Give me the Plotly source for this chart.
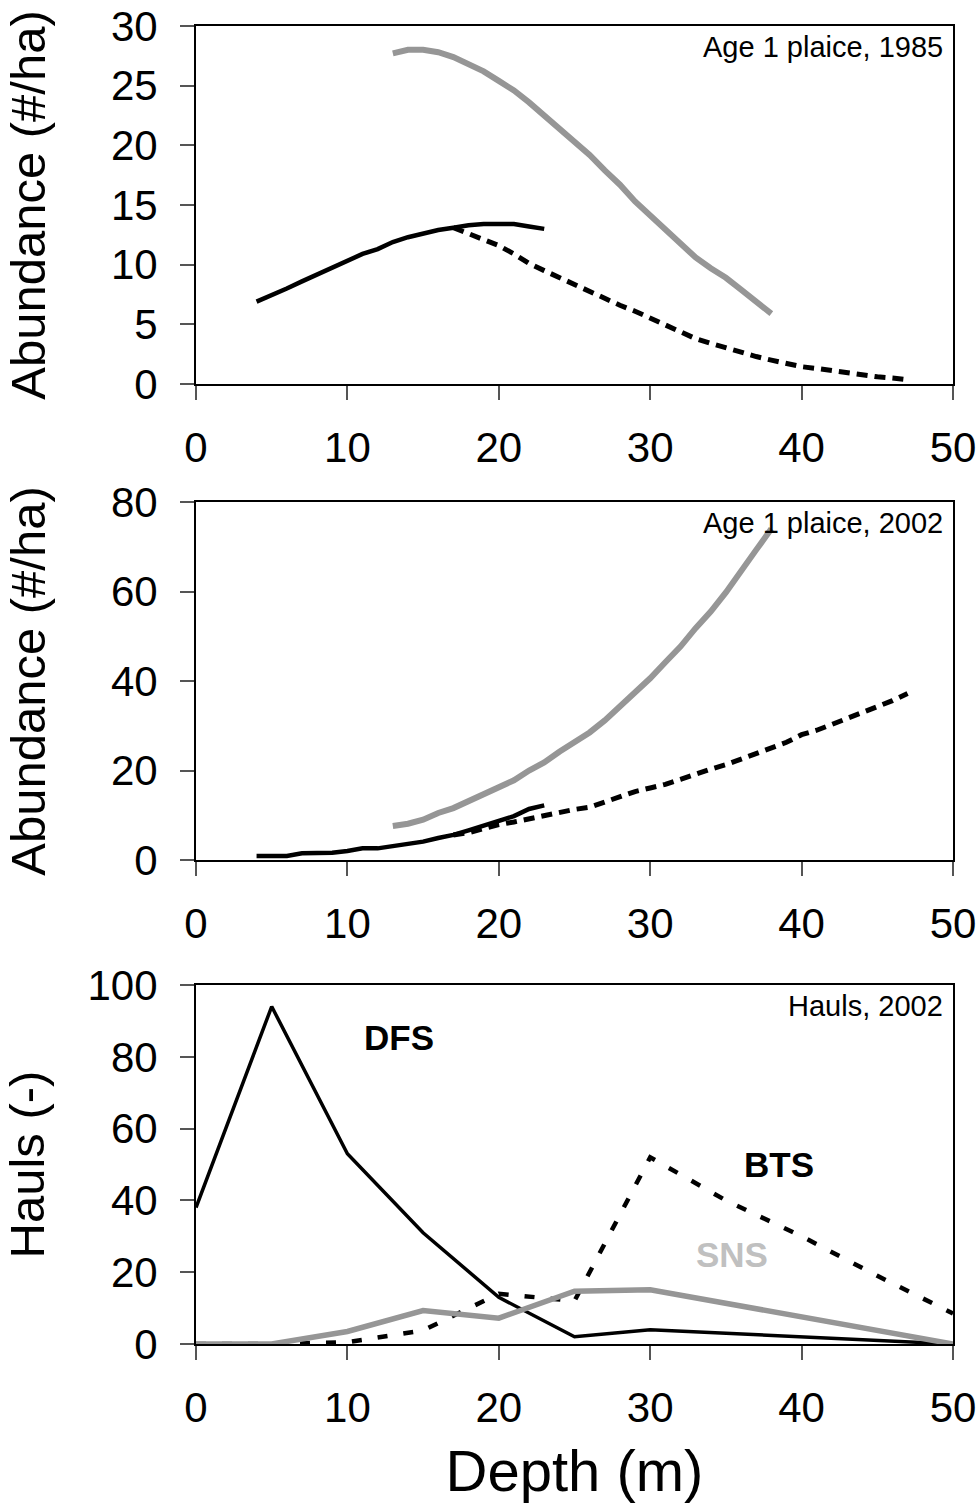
import plotly.graph_objects as go

# ---------------- data ----------------
# Panel 1: Age 1 plaice, 1985
p1_dfs_depth = list(range(4, 24))
p1_dfs_abund = [6.9, 7.4, 8.0, 8.6, 9.2, 9.8, 10.3, 10.9, 11.3, 11.9, 12.3, 12.6,
                12.9, 13.1, 13.3, 13.4, 13.4, 13.4, 13.2, 13.0]
p1_bts_depth = list(range(17, 48))
p1_bts_abund = [13.1, 12.6, 12.1, 11.6, 10.9, 10.1, 9.5, 8.9, 8.4, 7.8, 7.2, 6.6,
                6.1, 5.5, 4.9, 4.3, 3.8, 3.4, 3.0, 2.7, 2.3, 2.0, 1.7, 1.45, 1.3,
                1.1, 0.9, 0.75, 0.6, 0.5, 0.35]
p1_sns_depth = list(range(13, 39))
p1_sns_abund = [27.7, 28.0, 28.0, 27.8, 27.4, 26.8, 26.2, 25.4, 24.6, 23.6, 22.5,
                21.4, 20.3, 19.2, 17.9, 16.7, 15.3, 14.1, 12.9, 11.7, 10.6, 9.7,
                8.9, 7.9, 6.9, 5.9]

# Panel 2: Age 1 plaice, 2002
p2_dfs_depth = list(range(4, 24))
p2_dfs_abund = [0.9, 0.9, 0.9, 1.5, 1.6, 1.6, 2.0, 2.6, 2.6, 3.1, 3.6, 4.1, 4.9,
                5.6, 6.6, 7.6, 8.7, 9.8, 11.4, 12.2]
p2_bts_depth = list(range(17, 48))
p2_bts_abund = [5.6, 6.1, 7.0, 7.9, 8.5, 9.2, 9.9, 10.7, 11.3, 11.8, 13.0, 14.2,
                15.3, 16.1, 16.9, 18.0, 19.2, 20.3, 21.3, 22.5, 23.8, 25.0, 26.3,
                28.0, 29.0, 30.3, 31.6, 32.9, 34.2, 35.6, 37.2]
p2_sns_depth = list(range(13, 39))
p2_sns_abund = [7.6, 8.1, 9.0, 10.5, 11.6, 13.2, 14.5, 16.3, 17.8, 20.0, 21.8,
                24.2, 26.2, 28.5, 31.2, 34.3, 37.4, 40.6, 44.2, 47.7, 51.8, 55.5,
                59.8, 64.8, 69.3, 74.0]

# Panel 3: Hauls, 2002
haul_depth = [0, 5, 10, 15, 20, 25, 30, 35, 40, 45, 50]
hauls_dfs = [38, 94, 53, 31, 13, 2, 4, 3, 2, 1, 0]
hauls_bts = [0, 0, 0.5, 3.8, 14, 12, 52, 40, 30, 19, 8.5]
hauls_sns = [0, 0, 3.5, 9.3, 7.2, 14.7, 15.1, 11.3, 7.6, 3.8, 0]

x_ticks = [0, 10, 20, 30, 40, 50]

# ---------------- layout helpers ----------------
W, H = 979, 1512
ML, MT = 196, 26
MR = W - 953
MB = H - 1344
PH = H - MT - MB


def ydom(top_px, bot_px):
    return [1 - (bot_px - MT) / PH, 1 - (top_px - MT) / PH]


FONT = "Arial, Liberation Sans, sans-serif"
BLACK = "#000000"
GRAY = "#969696"
LIGHT = "#c0c0c0"

fig = go.Figure()

# panel 1
fig.add_trace(go.Scatter(x=p1_sns_depth, y=p1_sns_abund, mode="lines",
                         line=dict(color=GRAY, width=6), xaxis="x", yaxis="y", name="SNS"))
fig.add_trace(go.Scatter(x=p1_bts_depth, y=p1_bts_abund, mode="lines",
                         line=dict(color=BLACK, width=5, dash="11px,7px"),
                         xaxis="x", yaxis="y", name="BTS"))
fig.add_trace(go.Scatter(x=p1_dfs_depth, y=p1_dfs_abund, mode="lines",
                         line=dict(color=BLACK, width=4.5), xaxis="x", yaxis="y", name="DFS"))
# panel 2
fig.add_trace(go.Scatter(x=p2_sns_depth, y=p2_sns_abund, mode="lines",
                         line=dict(color=GRAY, width=6), xaxis="x2", yaxis="y2", name="SNS"))
fig.add_trace(go.Scatter(x=p2_bts_depth, y=p2_bts_abund, mode="lines",
                         line=dict(color=BLACK, width=5, dash="11px,7px"),
                         xaxis="x2", yaxis="y2", name="BTS"))
fig.add_trace(go.Scatter(x=p2_dfs_depth, y=p2_dfs_abund, mode="lines",
                         line=dict(color=BLACK, width=4.5), xaxis="x2", yaxis="y2", name="DFS"))
# panel 3
fig.add_trace(go.Scatter(x=haul_depth, y=hauls_bts, mode="lines",
                         line=dict(color=BLACK, width=4.5, dash="10px,16px"),
                         xaxis="x3", yaxis="y3", name="BTS"))
fig.add_trace(go.Scatter(x=haul_depth, y=hauls_dfs, mode="lines",
                         line=dict(color=BLACK, width=3.5), xaxis="x3", yaxis="y3", name="DFS"))
fig.add_trace(go.Scatter(x=haul_depth, y=hauls_sns, mode="lines",
                         line=dict(color=GRAY, width=5.5), xaxis="x3", yaxis="y3", name="SNS"))

tickfont = dict(family=FONT, size=42, color="black")
common_x = dict(range=[0, 50], tickvals=x_ticks, showline=True, linecolor="black",
                linewidth=2, mirror=True, ticks="outside", ticklen=14, tickwidth=1.5,
                tickcolor="#555555", showgrid=False, zeroline=False, tickfont=tickfont,
                ticklabelstandoff=12, domain=[0, 1], automargin=False,
                ticklabeloverflow="allow")
common_y = dict(showline=True, linecolor="black", linewidth=2, mirror=True,
                ticks="outside", ticklen=14, tickwidth=1.5, tickcolor="#555555",
                showgrid=False, zeroline=False, tickfont=tickfont, ticklabelstandoff=14,
                automargin=False, ticklabeloverflow="allow")
titlefont = dict(family=FONT, size=49, color="black")

fig.update_layout(
    width=W, height=H,
    margin=dict(l=ML, r=MR, t=MT, b=MB, autoexpand=False),
    paper_bgcolor="white", plot_bgcolor="white",
    showlegend=False,
    xaxis=dict(common_x, anchor="y"),
    xaxis2=dict(common_x, anchor="y2"),
    xaxis3=dict(common_x, anchor="y3",
                title=dict(text="Depth (m)", font=dict(family=FONT, size=58, color="black"),
                           standoff=20)),
    yaxis=dict(common_y, range=[0, 30], dtick=5, domain=ydom(26, 384), anchor="x",
               title=dict(text="Abundance (#/ha)", font=titlefont, standoff=50)),
    yaxis2=dict(common_y, range=[0, 80], dtick=20, domain=ydom(502, 860), anchor="x2",
                title=dict(text="Abundance (#/ha)", font=titlefont, standoff=50)),
    yaxis3=dict(common_y, range=[0, 100], dtick=20, domain=ydom(985, 1344), anchor="x3",
                title=dict(text="Hauls (-)", font=titlefont, standoff=27)),
)

annfont = dict(family=FONT, size=29, color="black")
for xr, yr, txt, cap_px, top_px, span in [
    ("x domain", "y domain", "Age 1 plaice, 1985", 47, 26, 358),
    ("x2 domain", "y2 domain", "Age 1 plaice, 2002", 523, 502, 358),
    ("x3 domain", "y3 domain", "Hauls, 2002", 1006, 985, 359),
]:
    fig.add_annotation(xref=xr, yref=yr, x=0.989, y=1 - (cap_px - top_px) / span,
                       xanchor="right", yanchor="middle", text=txt, showarrow=False,
                       font=annfont)

boldfont = dict(family=FONT, size=35, color="black", weight="bold")
fig.add_annotation(xref="x3", yref="y3", x=13.4, y=85.4, text="<b>DFS</b>",
                   showarrow=False, font=boldfont)
fig.add_annotation(xref="x3", yref="y3", x=38.5, y=50, text="<b>BTS</b>",
                   showarrow=False, font=boldfont)
fig.add_annotation(xref="x3", yref="y3", x=35.4, y=24.9, text="<b>SNS</b>",
                   showarrow=False, font=dict(boldfont, color=LIGHT))

# remove the default 8px page margin so the figure fills the window exactly
fig.write_html("out.html", config={"displayModeBar": False},
               post_script="document.body.style.margin='0';")
